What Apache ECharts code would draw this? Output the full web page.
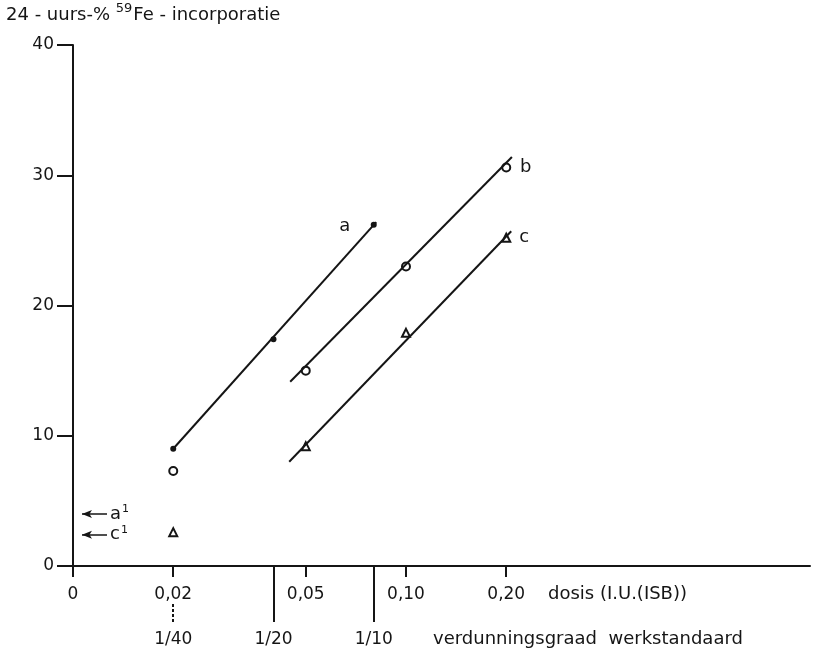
<!DOCTYPE html>
<html><head><meta charset="utf-8">
<script src="https://cdn.jsdelivr.net/npm/echarts@6/dist/echarts.min.js"></script>
<style>html,body{margin:0;padding:0;background:#fff}#c{width:820px;height:655px}</style>
</head><body><div id="c"></div>
<script>
// ---- data ----
const doseTicks = [0.01, 0.02, 0.05, 0.10, 0.20];
const doseTickLabels = ['0', '0,02', '0,05', '0,10', '0,20'];
const dilutionDoses = [0.02, 0.04, 0.08];
const dilutionLabels = ['1/40', '1/20', '1/10'];
const yTicks = [0, 10, 20, 30, 40];

const aDose = [0.02, 0.04, 0.08];
const aValues = [9.0, 17.4, 26.2];
const bDose = [0.02, 0.05, 0.10, 0.20];
const bValues = [7.3, 15.0, 23.0, 30.6];
const cDose = [0.02, 0.05, 0.10, 0.20];
const cValues = [2.6, 9.2, 17.9, 25.2];

const aLineDose = [0.02, 0.0814];
const aLineValues = [9.0, 26.4];
const bLineDose = [0.0449, 0.208];
const bLineValues = [14.15, 31.4];
const cLineDose = [0.0446, 0.207];
const cLineValues = [8.0, 25.7];

const refNames = ['a', 'c'];
const refValues = [4.0, 2.4];
const refArrowDose = [0.01064, 0.01265];

// ---- chart ----
const INK = '#151515';
const FONT = 'DejaVu Sans';
const zip = (xs, ys) => xs.map((x, i) => [x, ys[i]]);
const X_MIN = 0.01, X_MAX = 1.634;

const chart = echarts.init(document.getElementById('c'), null, {renderer: 'canvas'});

function fitLine(name, xs, ys, lbl) {
  return {
    type: 'line', name: name, xAxisIndex: 0, yAxisIndex: 0,
    data: zip(xs, ys), symbol: 'none', silent: true, animation: false,
    lineStyle: {color: INK, width: 2},
    endLabel: Object.assign({show: true, formatter: name, color: INK, fontFamily: FONT, fontSize: 18}, lbl)
  };
}

const option = {
  animation: false,
  backgroundColor: '#fff',
  textStyle: {fontFamily: FONT, color: INK},
  title: {
    left: 1, top: -3,
    text: '{t|24 - uurs-% }{s|59}{t|Fe - incorporatie}',
    textStyle: {
      fontWeight: 'normal',
      rich: {
        t: {fontFamily: FONT, fontSize: 18, fontWeight: 'normal', color: INK, verticalAlign: 'bottom', lineHeight: 22},
        s: {fontFamily: FONT, fontSize: 13, fontWeight: 'normal', color: INK, verticalAlign: 'top', lineHeight: 22, padding: [0, 1, 8, 0]}
      }
    }
  },
  grid: {left: 73, right: 10, top: 45, bottom: 89, containLabel: false, outerBoundsMode: 'none'},
  xAxis: [
    {
      type: 'log', min: X_MIN, max: X_MAX, position: 'bottom',
      axisLine: {show: true, onZero: false, lineStyle: {color: INK, width: 2}},
      axisTick: {show: true, customValues: doseTicks, length: 11, lineStyle: {color: INK, width: 2}},
      axisLabel: {
        show: true, customValues: doseTicks, margin: 20, fontSize: 17, fontFamily: FONT, color: INK,
        formatter: v => { const i = doseTicks.findIndex(t => Math.abs(t - v) < 1e-6); return i >= 0 ? doseTickLabels[i] : ''; }
      },
      splitLine: {show: false}, minorTick: {show: false}
    },
    {
      type: 'log', min: X_MIN, max: X_MAX, position: 'bottom', offset: 0,
      axisLine: {show: false},
      axisTick: {show: true, customValues: dilutionDoses.slice(1), length: 56, lineStyle: {color: INK, width: 2}},
      axisLabel: {
        show: true, customValues: dilutionDoses, margin: 65, fontSize: 17, fontFamily: FONT, color: INK,
        formatter: v => { const i = dilutionDoses.findIndex(t => Math.abs(t - v) < 1e-6); return i >= 0 ? dilutionLabels[i] : ''; }
      },
      splitLine: {show: false}
    },
    {
      type: 'log', min: X_MIN, max: X_MAX, position: 'bottom', offset: 38,
      axisLine: {show: false},
      axisTick: {show: true, customValues: dilutionDoses.slice(0, 1), length: 18, lineStyle: {color: INK, width: 2, type: [3, 2]}},
      axisLabel: {show: false},
      splitLine: {show: false}
    }
  ],
  yAxis: {
    type: 'value', min: 0, max: 40, interval: 10,
    axisLine: {show: true, onZero: false, lineStyle: {color: INK, width: 2}},
    axisTick: {show: true, inside: false, length: 16, lineStyle: {color: INK, width: 2}},
    axisLabel: {show: true, margin: 19, fontSize: 17, fontFamily: FONT, color: INK},
    splitLine: {show: false}
  },
  graphic: [
    {type: 'text', left: 548, top: 585, style: {text: 'dosis (I.U.(ISB))', fontFamily: FONT, fontSize: 18, fill: INK}},
    {type: 'text', left: 433, top: 630, style: {text: 'verdunningsgraad  werkstandaard', fontFamily: FONT, fontSize: 18, fill: INK}}
  ],
  series: [
    fitLine('a', aLineDose, aLineValues, {offset: [-45, 4]}),
    fitLine('b', bLineDose, bLineValues, {offset: [0, 10]}),
    fitLine('c', cLineDose, cLineValues, {offset: [0, 6]}),
    {
      type: 'scatter', name: 'a-pts', data: zip(aDose, aValues), symbol: 'circle', symbolSize: 6,
      itemStyle: {color: INK, opacity: 1}, silent: true,
      markLine: {
        silent: true, animation: false,
        symbol: ['arrow', 'none'], symbolSize: [6, 10],
        lineStyle: {color: INK, width: 1.5, type: 'solid'},
        label: {
          show: true, position: 'end', distance: 3,
          formatter: p => '{m|' + p.name + '}{s|1}',
          rich: {
            m: {fontFamily: FONT, fontSize: 18, color: INK},
            s: {fontFamily: FONT, fontSize: 11, color: INK, verticalAlign: 'top', padding: [0, 0, 10, 1]}
          }
        },
        data: refNames.map((n, i) => [
          {name: n, coord: [refArrowDose[0], refValues[i]]},
          {coord: [refArrowDose[1], refValues[i]]}
        ])
      }
    },
    {
      type: 'scatter', name: 'b-pts', data: zip(bDose, bValues), symbol: 'emptyCircle', symbolSize: 8,
      itemStyle: {color: INK, borderWidth: 1.6, opacity: 1}, silent: true
    },
    {
      type: 'scatter', name: 'c-pts', data: zip(cDose, cValues), symbol: 'emptyTriangle', symbolSize: 8,
      itemStyle: {color: INK, borderWidth: 1.4, opacity: 1}, silent: true
    }
  ]
};
chart.setOption(option);
</script></body></html>
